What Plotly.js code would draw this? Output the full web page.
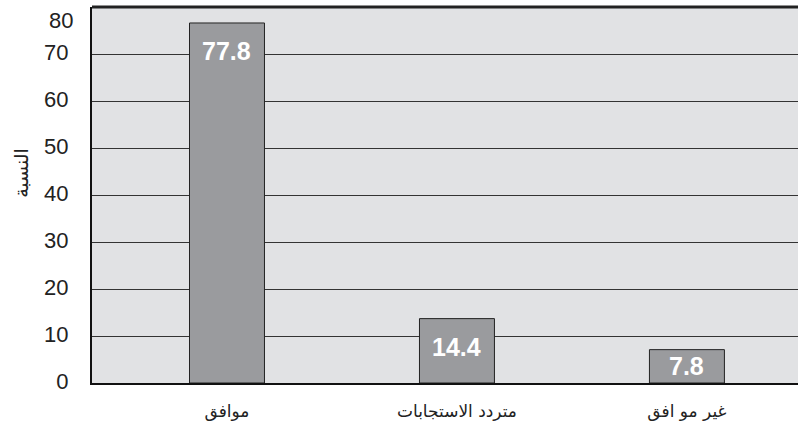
<!DOCTYPE html>
<html>
<head>
<meta charset="utf-8">
<script src="https://cdn.plot.ly/plotly-3.0.1.min.js"></script>
<style>html,body{margin:0;padding:0;background:#fff;}#chart{width:798px;height:425px;}</style>
</head>
<body>
<div id="chart"></div>
<script>
const categories = ["موافق", "متردد الاستجابات", "غير مو افق"];
const barHeights = [76.6, 13.7, 7.1];
const barLabels = ["77.8", "14.4", "7.8"];
const yTicks = [0, 10, 20, 30, 40, 50, 60, 70, 80];
const yTitle = "النسبة";

const xIdx = categories.map((_, i) => i);
const topTick = yTicks[yTicks.length - 1];
const yTickText = yTicks.map(v => v === topTick ? "" : String(v));

const trace = {
  type: "bar",
  x: xIdx,
  y: barHeights,
  width: 0.326,
  marker: { color: "#9a9b9e", line: { color: "#222", width: 1 } },
  hoverinfo: "skip"
};

const tickFont = { family: "Liberation Sans, Arial, sans-serif", size: 22, color: "#222" };

const annotations = barLabels.map((t, i) => ({
  x: xIdx[i],
  y: Math.max(barHeights[i] - 6, barHeights[i] / 2),
  xref: "x", yref: "y",
  text: "<b>" + t + "</b>",
  showarrow: false,
  yanchor: "middle",
  font: { family: "Liberation Sans, Arial, sans-serif", size: 25, color: "#fff" }
}));
annotations.push({
  xref: "paper", yref: "y",
  x: 0, y: topTick, xshift: -17,
  xanchor: "right", yanchor: "top", yshift: 1,
  text: String(topTick), showarrow: false,
  font: tickFont
});
annotations.push({
  xref: "paper", yref: "paper",
  x: -0.1, y: 0.56,
  xanchor: "center", yanchor: "middle",
  text: yTitle, textangle: -90, showarrow: false,
  font: { family: "DejaVu Sans, sans-serif", size: 19, color: "#222" }
});

const layout = {
  width: 798, height: 425,
  margin: { l: 92, r: 0, t: 7, b: 42 },
  paper_bgcolor: "#fff",
  plot_bgcolor: "#e1e2e4",
  showlegend: false,
  xaxis: {
    range: [-0.587, 2.483],
    tickmode: "array",
    tickvals: xIdx,
    ticktext: categories,
    showgrid: false,
    zeroline: false,
    showline: true, linecolor: "#111", linewidth: 2,
    ticks: "", ticklabelstandoff: 12,
    tickfont: { family: "DejaVu Sans, sans-serif", size: 17, color: "#222" },
    fixedrange: true
  },
  yaxis: {
    range: [0, 80],
    tickmode: "array",
    tickvals: yTicks,
    ticktext: yTickText,
    showgrid: true, gridcolor: "#333", gridwidth: 1,
    zeroline: false,
    showline: true, linecolor: "#111", linewidth: 2,
    ticks: "", ticklabelstandoff: 17, ticklabelshift: -2,
    tickfont: tickFont,
    fixedrange: true
  },
  shapes: [{
    type: "line", xref: "paper", yref: "paper",
    x0: 0, x1: 1, y0: 1, y1: 1,
    line: { color: "#222", width: 3 }
  }],
  annotations: annotations
};

Plotly.newPlot("chart", [trace], layout, { displayModeBar: false, staticPlot: true });
</script>
</body>
</html>
